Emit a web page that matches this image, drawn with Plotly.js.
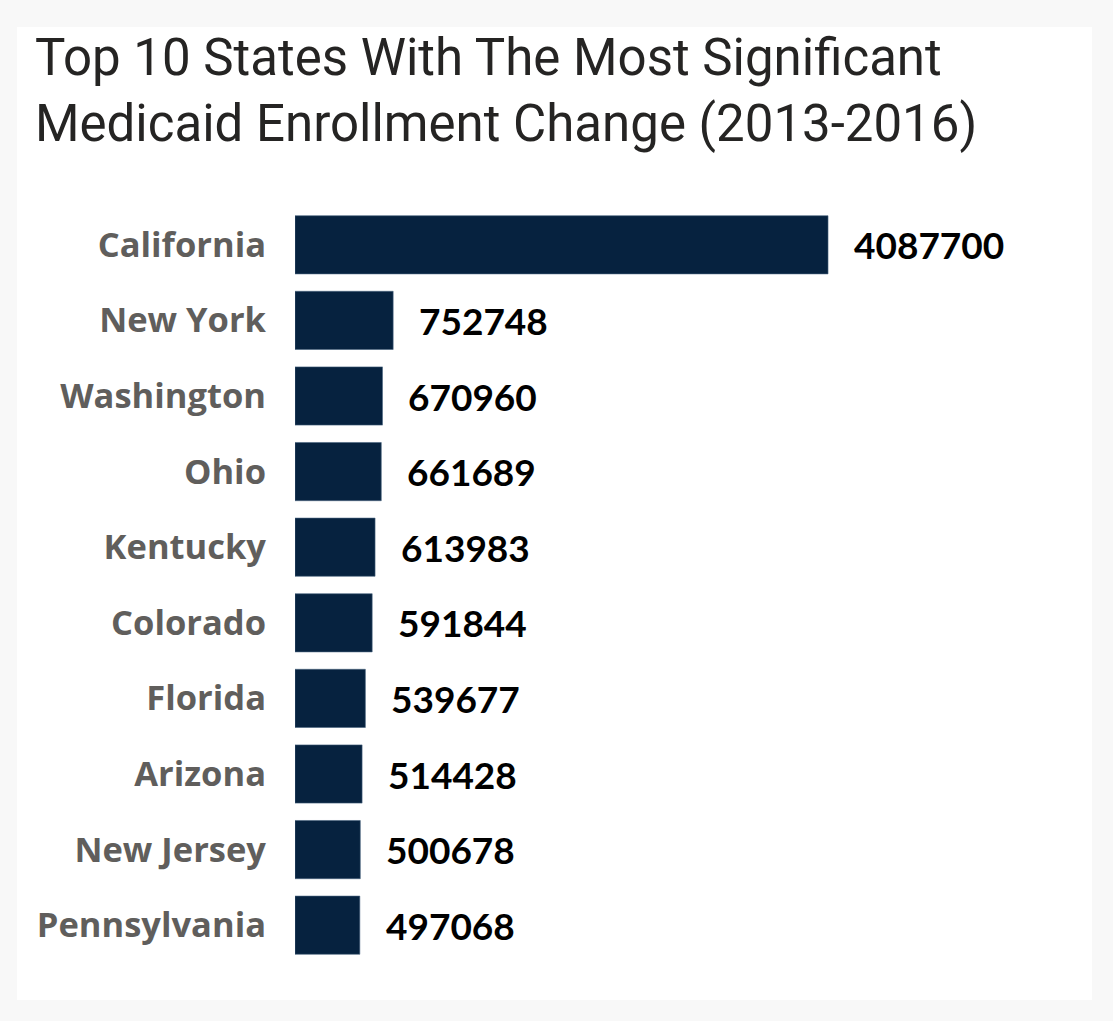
<!DOCTYPE html>
<html>
<head>
<meta charset="utf-8">
<script src="https://cdn.plot.ly/plotly-3.0.1.min.js"></script>
<style>
  html, body { margin: 0; padding: 0; background: #f8f8f8; }
  #chart { width: 1113px; height: 1021px; }
</style>
</head>
<body>
<div id="chart"></div>
<script>
const states = ["California", "New York", "Washington", "Ohio", "Kentucky", "Colorado", "Florida", "Arizona", "New Jersey", "Pennsylvania"];
const enrollmentChange = [4087700, 752748, 670960, 661689, 613983, 591844, 539677, 514428, 500678, 497068];
const chartTitle = "Top 10 States With The Most Significant<br>Medicaid Enrollment Change (2013-2016)";

const barColor = "#06223f";

const trace = {
  type: "bar",
  orientation: "h",
  x: enrollmentChange,
  y: states,
  marker: { color: barColor, line: { color: "#4a6480", width: 0.6 } },
  hoverinfo: "x+y",
  showlegend: false
};

const valueAnnotations = states.map((s, i) => ({
  x: enrollmentChange[i],
  y: s,
  xref: "x",
  yref: "y",
  text: String(enrollmentChange[i]),
  showarrow: false,
  xanchor: "left",
  yanchor: "middle",
  xshift: 24,
  font: { family: "Lato, 'Open Sans', sans-serif", size: 37, color: "#000000", weight: 700 }
}));

const layout = {
  width: 1113,
  height: 1021,
  paper_bgcolor: "#f8f8f8",
  plot_bgcolor: "#ffffff",
  margin: { l: 295, r: 33, t: 207, b: 58, pad: 0 },
  title: {
    text: chartTitle,
    x: 35 / 1113,
    xref: "container",
    xanchor: "left",
    y: 1 - 75 / 1021,
    yref: "container",
    yanchor: "top",
    font: { family: "Roboto, 'DejaVu Sans', sans-serif", size: 51, color: "#252423" }
  },
  bargap: 0.23,
  xaxis: {
    range: [0, 6020000],
    showgrid: false,
    zeroline: false,
    showticklabels: false,
    showline: false,
    ticks: ""
  },
  yaxis: {
    type: "category",
    autorange: "reversed",
    showgrid: false,
    zeroline: false,
    showline: false,
    ticks: "",
    ticklabelstandoff: 28,
    tickfont: { family: "'Open Sans', Lato, sans-serif", size: 34.5, color: "#605e5c", weight: 700 }
  },
  shapes: [{
    type: "rect",
    xref: "paper",
    yref: "paper",
    x0: (17 - 295) / 785,
    x1: (1092 - 295) / 785,
    y0: (963 - 1000) / 756,
    y1: (963 - 27) / 756,
    fillcolor: "#ffffff",
    line: { width: 0 },
    layer: "below"
  }],
  annotations: valueAnnotations
};

Plotly.newPlot("chart", [trace], layout, { displayModeBar: false });
</script>
</body>
</html>
